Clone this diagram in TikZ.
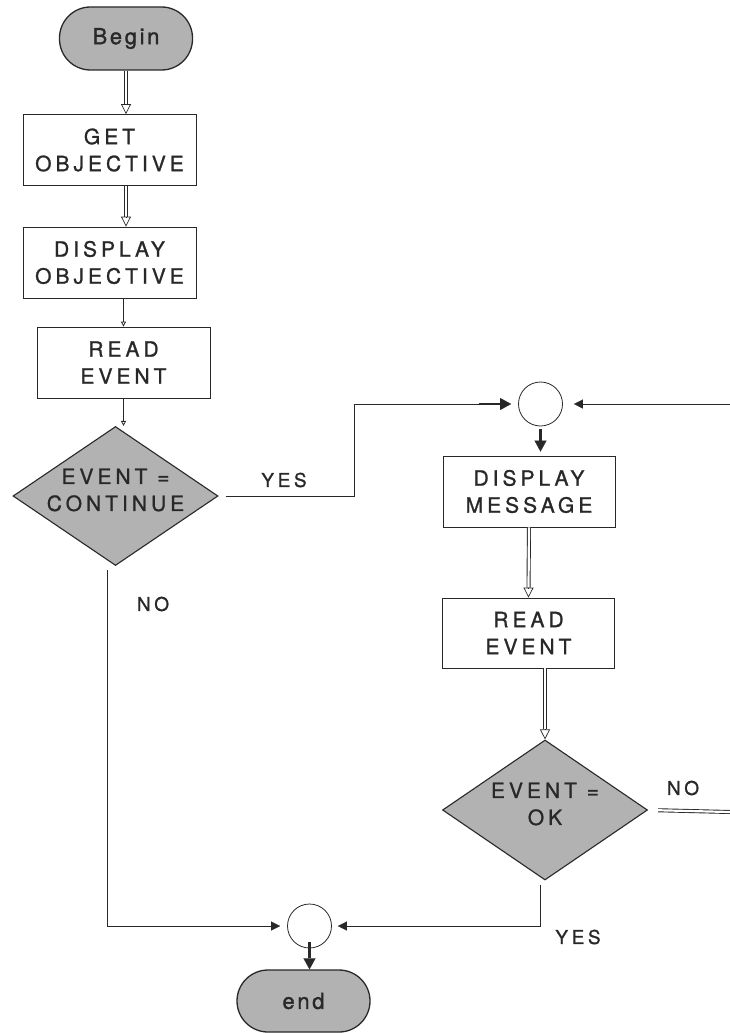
\documentclass[tikz,border=0pt]{standalone}
\usepackage{fontspec}
\setmainfont{TeX Gyre Heros}
\newfontfamily\boxface{TeX Gyre Heros}[LetterSpace=19, FakeBold=1]
\newfontfamily\termface{TeX Gyre Heros}[LetterSpace=12, FakeBold=1.3]
\usetikzlibrary{shapes.geometric,arrows.meta,calc}
\definecolor{ink}{RGB}{40,40,40}
\definecolor{shade}{RGB}{178,178,178}

% double-shafted arrow with a hollow head
\newcommand\dblarrow[2]{%
  \draw[dblshaft] (#1) -- ([yshift=10pt]#2);
  \draw[hollowhead] ([yshift=10pt]#2) -- (#2);}

\begin{document}
\begin{tikzpicture}[x=1pt,y=-1pt,
  every node/.style={text=ink},
  boxfont/.style={font=\boxface\fontsize{21}{27}\selectfont},
  stepbox/.style={boxfont, draw=ink, line width=0.8pt, rectangle, minimum width=173pt,
    minimum height=71pt, align=center, inner sep=0pt},
  terminal/.style={font=\termface\fontsize{22}{26}\selectfont, draw=ink, line width=1.3pt,
    fill=shade, rounded corners=31pt, minimum width=133pt, minimum height=63pt, inner sep=0pt},
  decision/.style={draw=ink, line width=1.1pt, fill=shade, diamond, aspect=1.47,
    minimum width=205pt, minimum height=139pt, inner sep=0pt},
  decisiontext/.style={boxfont, align=center, yshift=6pt},
  junction/.style={draw=ink, line width=0.8pt, circle, minimum size=44pt, inner sep=0pt},
  tag/.style={font=\boxface\fontsize{19}{24}\selectfont},
  flow/.style={draw=ink, line width=0.8pt},
  dblshaft/.style={draw=ink, line width=0.9pt, double=white, double distance=2.2pt},
  hollowhead/.style={draw=ink, line width=0.7pt, -{Triangle[open, length=10pt, width=10pt]}},
  smallhollow/.style={flow, -{Triangle[open, length=5pt, width=5pt]}},
  thinfilled/.style={flow, -{Triangle[length=9pt, width=9pt, line width=0.1pt]}},
  heavy/.style={draw=ink, line width=2.8pt, -{Triangle[length=11pt, width=12pt, line width=0.1pt]}}
]
\useasboundingbox (0,0) rectangle (730,1033);
\fill[white] (0,0) rectangle (730,1033);

% left column
\node[terminal] (begin) at (126,38.5) {Begin};
\node[stepbox] (get) at (109.5,150) {GET\\OBJECTIVE};
\node[stepbox] (dispobj) at (109.5,262.5) {DISPLAY\\OBJECTIVE};
\node[stepbox] (read1) at (123.5,362.5) {READ\\EVENT};
\node[decision, label={[decisiontext]center:{EVENT =\\CONTINUE}}] (dec1) at (115.5,496) {};

% right column
\node[junction] (circ1) at (540.5,404) {};
\node[stepbox, minimum width=172pt] (dispmsg) at (529,491.5) {DISPLAY\\MESSAGE};
\node[stepbox, minimum width=172pt, minimum height=70pt] (read2) at (528.5,633) {READ\\EVENT};
\node[decision, minimum height=140pt, label={[decisiontext]center:{EVENT =\\OK}}] (dec2) at (545,810) {};

% merge and end
\node[junction] (circ2) at (309.5,926) {};
\node[terminal, minimum height=62pt] (endn) at (303.5,1001) {end};

% branch labels
\node[tag] (yes1) at (284,480) {YES};
\node[tag] (no1) at (153,604) {NO};
\node[tag] (no2) at (683,788) {NO};
\node[tag] (yes2) at (578,937) {YES};

% loose ends at the right margin
\coordinate (rin) at (730,404);
\coordinate (rout) at (730,812);
\coordinate (j1) at (354,0);

% connectors, left column
\coordinate (t1) at (begin.south |- get.north);
\dblarrow{begin.south}{t1}
\coordinate (s2) at (begin.south |- get.south);
\coordinate (t2) at (begin.south |- dispobj.north);
\dblarrow{s2}{t2}
\coordinate (s3) at (read1.north |- dispobj.south);
\draw[smallhollow] (s3) -- (read1.north);
\coordinate (t4) at (read1.south |- dec1.north);
\draw[smallhollow] (read1.south) -- (t4);

% YES branch into the upper junction
\draw[flow] ([xshift=7pt]dec1.east) -| (j1 |- circ1.west) -- ([xshift=-39pt]circ1.west);
\draw[heavy] ([xshift=-39pt]circ1.west) -- ([xshift=-7pt]circ1.west);
\draw[thinfilled, shorten >=11pt] (rin) -- (circ1.east);

% connectors, right column
\draw[heavy, shorten <=3pt, shorten >=4pt] (circ1.south) -- (circ1.south |- dispmsg.north);
\dblarrow{dispmsg.south}{read2.north}
\coordinate (s5) at (dec2.north |- read2.south);
\dblarrow{s5}{dec2.north}
\draw[dblshaft, shorten <=10pt] (dec2.east) -- (rout);

% into the lower junction and the end
\draw[thinfilled, shorten >=7pt] ([xshift=-8pt,yshift=-4pt]dec1.south) |- (circ2.west);
\draw[thinfilled, shorten >=6pt] ([xshift=-5pt,yshift=-4pt]dec2.south) |- (circ2.east);
\draw[heavy] ([yshift=6pt]circ2.south) -- (circ2.south |- endn.north);
\end{tikzpicture}
\end{document}
